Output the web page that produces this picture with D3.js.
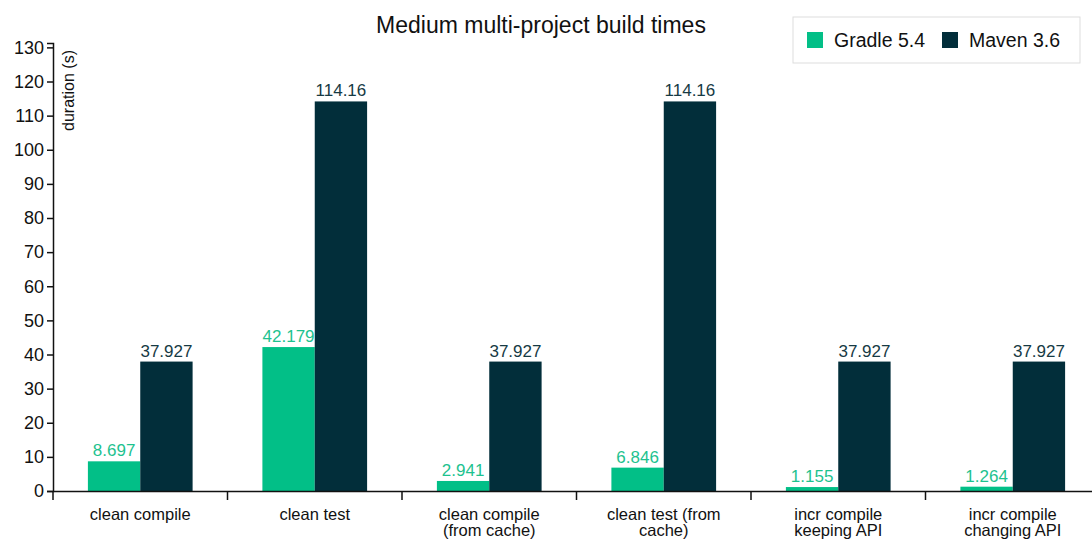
<!DOCTYPE html>
<html>
<head>
<meta charset="utf-8">
<script src="https://cdn.jsdelivr.net/npm/d3@7"></script>
<style>
  body { margin: 0; background: #fff; }
  svg { font-family: "Liberation Sans", Arial, Helvetica, sans-serif; }
</style>
</head>
<body>
<div id="chart"></div>
<script>
"use strict";

// build times in seconds
const categories = ["clean compile", "clean test", "clean compile (from cache)",
  "clean test (from cache)", "incr compile keeping API", "incr compile changing API"];
const seriesNames = ["Gradle 5.4", "Maven 3.6"];
const gradle = [8.697, 42.179, 2.941, 6.846, 1.155, 1.264];
const maven = [37.927, 114.16, 37.927, 114.16, 37.927, 37.927];
const yTicks = [0, 10, 20, 30, 40, 50, 60, 70, 80, 90, 100, 110, 120, 130];

const colors = ["#02bf87", "#022e3a"];
const labelColors = ["#1dc28f", "#163a44"];

const svgWidth = 1092, svgHeight = 541;
const margin = { top: 43, left: 53, bottom: 50 };

const svg = d3.select("#chart")
  .append("svg")
  .attr("width", svgWidth)
  .attr("height", svgHeight);

const x = d3.scaleBand().domain(categories).range([53, 1100]).padding(0);
const x1 = d3.scaleBand().domain(seriesNames)
  .range([x.bandwidth() * 0.2, x.bandwidth() * 0.8]);
const yMax = d3.max(maven) * 1.15;
const y = d3.scaleLinear().domain([0, yMax]).range([svgHeight - margin.bottom, margin.top]);

const rows = categories.map((c, i) => ({ cat: c, values: [gradle[i], maven[i]] }));

// bars
const groups = svg.selectAll("g.group")
  .data(rows)
  .enter()
  .append("g")
  .attr("class", "group")
  .attr("transform", d => `translate(${x(d.cat)},0)`);

groups.selectAll("rect")
  .data(d => d.values.map((v, i) => ({ name: seriesNames[i], v, i })))
  .enter()
  .append("rect")
  .attr("x", d => x1(d.name))
  .attr("width", x1.bandwidth())
  .attr("y", d => y(d.v))
  .attr("height", d => y(0) - y(d.v))
  .attr("fill", d => colors[d.i]);

groups.selectAll("text.val")
  .data(d => d.values.map((v, i) => ({ name: seriesNames[i], v, i })))
  .enter()
  .append("text")
  .attr("class", "val")
  .attr("x", d => x1(d.name) + x1.bandwidth() / 2)
  .attr("y", d => y(d.v) - 5)
  .attr("text-anchor", "middle")
  .attr("font-size", "17px")
  .attr("fill", d => labelColors[d.i])
  .text(d => d.v);

// y axis
const yAxis = d3.axisLeft(y).tickValues(yTicks).tickSizeOuter(6).tickPadding(3);
const gy = svg.append("g")
  .attr("transform", `translate(${margin.left},0)`)
  .call(yAxis);
gy.selectAll("text").attr("font-size", "18px").attr("fill", "#111")
  .attr("font-family", "Liberation Sans, Arial, sans-serif");
gy.selectAll("line, path").attr("stroke", "#111").attr("stroke-width", 1.5);

svg.append("text")
  .attr("transform", "rotate(-90)")
  .attr("x", -50)
  .attr("y", 74)
  .attr("text-anchor", "end")
  .attr("font-size", "16px")
  .attr("fill", "#111")
  .text("duration (s)");

// x axis
const baseY = y(0);
const xAxis = d3.axisBottom(x).tickSize(0).tickPadding(17);
const gx = svg.append("g")
  .attr("transform", `translate(0,${baseY})`)
  .call(xAxis);
gx.select("path").attr("stroke", "#111").attr("stroke-width", 1.5);
gx.selectAll("text")
  .attr("font-size", "16.5px")
  .attr("fill", "#111")
  .attr("font-family", "Liberation Sans, Arial, sans-serif")
  .call(wrap, 140);

const boundaries = categories.map(c => x(c)).concat([x.range()[1]]);
gx.selectAll("line.bound")
  .data(boundaries)
  .enter()
  .append("line")
  .attr("class", "bound")
  .attr("x1", d => d)
  .attr("x2", d => d)
  .attr("y1", 0)
  .attr("y2", 9)
  .attr("stroke", "#111")
  .attr("stroke-width", 1.5);

function wrap(sel, width) {
  sel.each(function() {
    const text = d3.select(this);
    const words = text.text().split(/\s+/);
    const yy = text.attr("y");
    const dy = parseFloat(text.attr("dy")) || 0;
    let line = [];
    let lineNo = 0;
    let tspan = text.text(null).append("tspan").attr("x", 0).attr("y", yy).attr("dy", dy + "em");
    for (const w of words) {
      line.push(w);
      tspan.text(line.join(" "));
      if (tspan.node().getComputedTextLength() > width && line.length > 1) {
        line.pop();
        tspan.text(line.join(" "));
        line = [w];
        lineNo++;
        tspan = text.append("tspan").attr("x", 0).attr("y", yy)
          .attr("dy", (lineNo * 1.0 + dy) + "em").text(w);
      }
    }
  });
}

// title
svg.append("text")
  .attr("x", 541)
  .attr("y", 33)
  .attr("text-anchor", "middle")
  .attr("font-size", "23px")
  .attr("fill", "#111")
  .text("Medium multi-project build times");

// legend
const legend = svg.append("g").attr("transform", "translate(793,17)");
legend.append("rect")
  .attr("width", 287).attr("height", 46)
  .attr("fill", "#fff").attr("stroke", "#ddd").attr("stroke-width", 1);
const legendX = [14, 149];
seriesNames.forEach((name, i) => {
  legend.append("rect")
    .attr("x", legendX[i]).attr("y", 15)
    .attr("width", 16).attr("height", 16)
    .attr("fill", colors[i]);
  legend.append("text")
    .attr("x", legendX[i] + 27).attr("y", 30)
    .attr("font-size", "19.5px")
    .attr("fill", "#111")
    .text(name);
});
</script>
</body>
</html>
